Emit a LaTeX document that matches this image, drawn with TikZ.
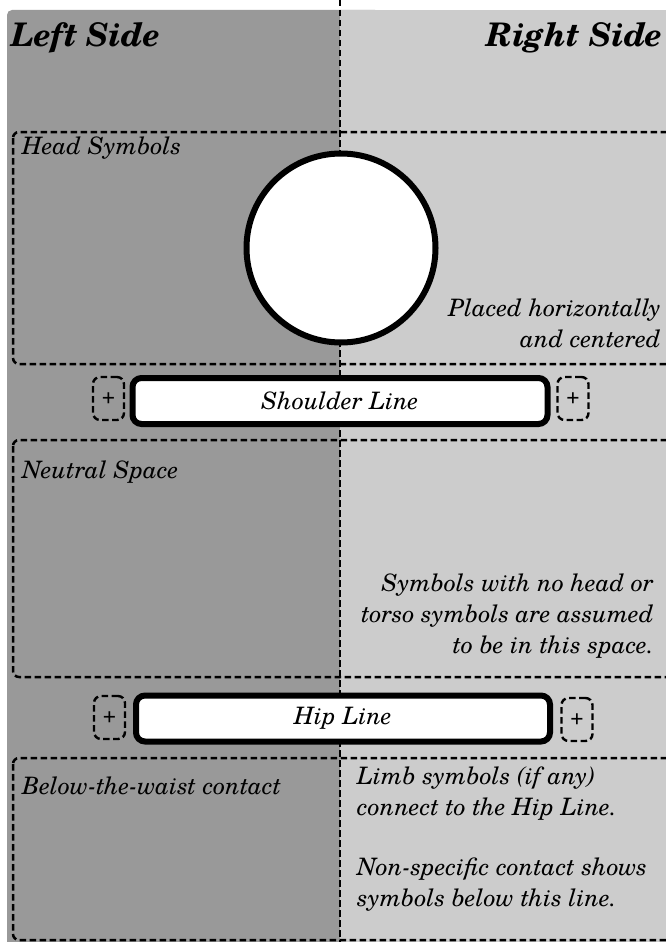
\documentclass[tikz,border=0pt]{standalone}
\usepackage{fontspec}
\setmainfont{texgyreschola}[Extension=.otf, UprightFont=*-regular, BoldFont=*-bold, ItalicFont=*-italic, BoldItalicFont=*-bolditalic]
\definecolor{leftgray}{HTML}{999999}
\definecolor{rightgray}{HTML}{CCCCCC}
\begin{document}
\begin{tikzpicture}[x=1pt,y=-1pt,
  dashpat/.style={dash pattern=on 6.5pt off 3.5pt},
  regionbox/.style={draw, dashpat, line width=2.5pt, rounded corners=6pt},
  plusbox/.style={draw, dashpat, line width=2.4pt, rounded corners=7pt, minimum width=31pt, minimum height=43pt, inner sep=0pt, font=\fontsize{21}{21}\selectfont},
  linebox/.style={draw, fill=white, line width=6pt, rounded corners=9pt, inner sep=0pt, font=\fontsize{24}{28}\selectfont\itshape},
  header/.style={font=\fontsize{32.5}{34}\selectfont\bfseries\itshape, inner sep=0pt},
  label/.style={font=\fontsize{24}{31}\selectfont\itshape, inner sep=0pt}
]
\useasboundingbox (0,0) rectangle (666,942);
\clip (0,0) rectangle (666,942);
% panels
\fill[leftgray, rounded corners=5pt] (7,10) rectangle (380,990);
\fill[rightgray] (340,10) rectangle (700,990);
% region boxes
\draw[regionbox] (13,132) rectangle (720,364);
\draw[regionbox] (13,440) rectangle (720,677);
\draw[regionbox] (13,758) rectangle (720,940);
% centre line
\coordinate (ctop) at (340,0);
\coordinate (cbot) at (340,942);
\draw[dashpat, line width=2.5pt] (ctop) -- (cbot);
% headers
\node[header, anchor=base west] (lside) at (11,47) {Left Side};
\node[header, anchor=base east] (rside) at (663,47) {Right Side};
% head
\node[label, anchor=base west] (headlbl) at (22,154) {Head Symbols};
\node[circle, draw, fill=white, line width=6pt, minimum size=189pt, inner sep=0pt] (head) at (341,248) {};
\node[label, anchor=base east, align=right] (placed) at (661,347) {Placed horizontally\\and centered};
% shoulder line
\node[linebox, minimum width=415pt, minimum height=46pt] (shoulder) at (340,401) {Shoulder Line};
\node[plusbox] (splusl) at (108.5,398.5) {+};
\node[plusbox] (splusr) at (573,398.5) {+};
% neutral space
\node[label, anchor=base west] (neutral) at (22,478) {Neutral Space};
\node[label, anchor=base east, align=right] (neutraltxt) at (654,653) {Symbols with no head or\\torso symbols are assumed\\to be in this space.};
% hip line
\node[linebox, minimum width=414pt, minimum height=46pt] (hip) at (343,718.5) {Hip Line};
\node[plusbox] (hplusl) at (109.5,717.5) {+};
\node[plusbox] (hplusr) at (577,719.5) {+};
% below the waist
\node[label, anchor=base west] (below) at (22,794) {Below-the-waist contact};
\node[label, anchor=base west, align=left] (limb) at (357,815) {Limb symbols (if any)\\connect to the Hip Line.};
\node[label, anchor=base west, align=left] (nonspec) at (357,906) {Non-specific contact shows\\symbols below this line.};
\end{tikzpicture}
\end{document}
